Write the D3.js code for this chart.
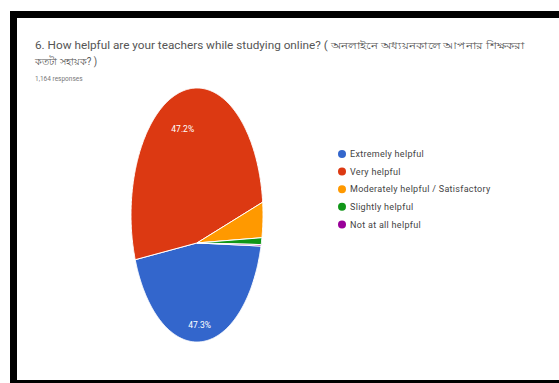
<!DOCTYPE html>
<html>
<head>
<meta charset="utf-8">
<script src="https://cdn.jsdelivr.net/npm/d3@7.9.0/dist/d3.min.js"></script>
<style>
  body { margin: 0; background: #fff; }
  svg { display: block; }
</style>
</head>
<body>
<div id="chart"></div>
<script>
// answer categories, in the order the form draws them
const categories = [
  'Extremely helpful',
  'Very helpful',
  'Moderately helpful / Satisfactory',
  'Slightly helpful',
  'Not at all helpful',
];
const percents = [47.3, 47.2, 4.4, 0.9, 0.2];
const colors = ['#3366cc', '#dc3912', '#ff9900', '#109618', '#990099'];

const titleLines = [
  '6. How helpful are your teachers while studying online? ( অনলাইনে অধ্যয়নকালে আপনার শিক্ষকরা',
  'কতটা সহায়ক? )',
];
const responses = '1,164 responses';

const width = 559;
const height = 383;

const svg = d3.select('#chart')
  .append('svg')
  .attr('width', width)
  .attr('height', height);

svg.append('rect').attr('width', width).attr('height', height).attr('fill', '#fff');

// black photo frame (left, top, bottom; right side runs off the picture)
const frame = svg.append('g').attr('fill', '#000');
frame.append('rect').attr('x', 10).attr('y', 11).attr('width', width - 10).attr('height', 7);
frame.append('rect').attr('x', 10).attr('y', 11).attr('width', 7).attr('height', height - 11);
frame.append('rect').attr('x', 10).attr('y', 380).attr('width', width - 10).attr('height', 3);

const font = 'Roboto, "Noto Sans", "Liberation Sans", sans-serif';

svg.selectAll('.title')
  .data(titleLines)
  .join('text')
  .attr('class', 'title')
  .attr('x', 35)
  .attr('y', (d, i) => 49 + i * 16)
  .attr('font-family', font)
  .attr('font-size', 10)
  .attr('fill', '#555')
  .attr('textLength', (d, i) => (i === 0 ? 490 : 62))
  .attr('lengthAdjust', 'spacingAndGlyphs')
  .text((d) => d);

svg.append('text')
  .attr('x', 35)
  .attr('y', 81)
  .attr('font-family', font)
  .attr('font-size', 6.5)
  .attr('fill', '#777')
  .text(responses);

// the pie was photographed at an angle: outline is an ellipse, but the
// slice centre sits below the middle. A projective map of the unit disc
// (shift t) followed by scaling into the ellipse reproduces that.
const cx = 197, cy = 215, rx = 66, ry = 127, t = 0.22;
const startOffset = (91.5 * Math.PI) / 180;

function project(angle, r) {
  const u = r * Math.sin(angle);
  const v = -r * Math.cos(angle);
  const den = 1 + t * v;
  const x = (u * Math.sqrt(1 - t * t)) / den;
  const y = (v + t) / den;
  return [cx + rx * x, cy + ry * y];
}

const pie = d3.pie()
  .sort(null)
  .startAngle(startOffset)
  .endAngle(startOffset + 2 * Math.PI)
  .value((d) => d);

const arcs = pie(percents);

const line = d3.line();

function slicePath(d) {
  const steps = Math.max(2, Math.ceil((d.endAngle - d.startAngle) / 0.01));
  const angles = d3.range(steps + 1)
    .map((k) => d.startAngle + ((d.endAngle - d.startAngle) * k) / steps);
  const pts = [project(0, 0), ...angles.map((a) => project(a, 1))];
  return line(pts) + 'Z';
}

svg.append('g')
  .selectAll('path')
  .data(arcs)
  .join('path')
  .attr('d', slicePath)
  .attr('fill', (d, i) => colors[i])
  .attr('stroke', '#fff')
  .attr('stroke-width', 1)
  .attr('stroke-linejoin', 'round');

const labelR = 0.8;

svg.selectAll('.pct')
  .data(arcs.filter((d) => d.data > 10))
  .join('text')
  .attr('class', 'pct')
  .attr('x', (d) => project((d.startAngle + d.endAngle) / 2, labelR)[0])
  .attr('y', (d) => project((d.startAngle + d.endAngle) / 2, labelR)[1])
  .attr('dy', '0.35em')
  .attr('text-anchor', 'middle')
  .attr('font-family', font)
  .attr('font-size', 8.5)
  .attr('fill', '#fff')
  .text((d) => d.data.toFixed(1) + '%');

// legend
const legend = svg.append('g').attr('transform', 'translate(342,154)');

const items = legend.selectAll('g')
  .data(categories)
  .join('g')
  .attr('transform', (d, i) => `translate(0,${i * 17.6})`);

items.append('circle')
  .attr('r', 4)
  .attr('fill', (d, i) => colors[i]);

items.append('text')
  .attr('x', 8)
  .attr('dy', '0.35em')
  .attr('font-family', font)
  .attr('font-size', 9)
  .attr('letter-spacing', 0.3)
  .attr('fill', '#444')
  .text((d) => d);
</script>
</body>
</html>
